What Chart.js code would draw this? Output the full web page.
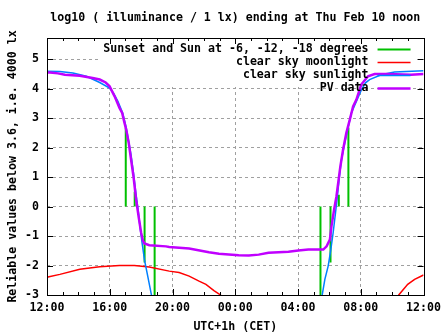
<!DOCTYPE html>
<html>
<head>
<meta charset="utf-8">
<script src="https://cdn.jsdelivr.net/npm/chart.js@4"></script>
<style>
  html, body { margin: 0; padding: 0; background: #fff; }
  canvas { display: block; }
</style>
</head>
<body>
<canvas id="chart" width="447" height="335"></canvas>
<script>
// x values are hours after 12:00 on Wed Feb 9 (CET)
const xTickHours = [0, 4, 8, 12, 16, 20, 24];
const xTickLabels = ["12:00", "16:00", "20:00", "00:00", "04:00", "08:00", "12:00"];
const yTickValues = [-3, -2, -1, 0, 1, 2, 3, 4, 5];

// sunset, sun at -6, -12, -18 degrees, then the same in the morning
const twilightHours = [5.02, 5.59, 6.22, 6.86, 17.43, 18.07, 18.60, 19.21];
const twilightLevels = [2.68, 0.5, -1.9, -3.3, -3.3, -1.9, 0.4, 2.68];

const moonHours = [0, 0.13, 0.82, 2.09, 3.36, 4.62, 5.57, 6.52, 7.79, 8.42, 9.06, 9.69, 10.13, 10.64, 11.06, 11.3,
  16.0,
  22.2, 22.42, 22.99, 23.43, 24.0];
const moonLog = [-2.40, -2.38, -2.30, -2.13, -2.04, -2.00, -2.00, -2.05, -2.19, -2.24, -2.36, -2.53, -2.64, -2.85, -3.0, -3.3,
  null,
  -3.3, -3.0, -2.64, -2.47, -2.32];

const sunHours = [0, 0.82, 1.65, 2.51, 3.36, 3.99, 4.24, 4.52, 4.83, 5.05, 5.21, 5.36, 5.51, 5.68, 5.83, 5.93, 6.06, 6.21, 6.42, 6.63, 6.74,
  12.0,
  17.45, 17.54, 17.71, 17.92, 18.09, 18.24, 18.39, 18.51, 18.64, 18.77, 18.98, 19.19, 19.40, 19.72, 20.03, 20.30, 20.56, 21.30, 22.15, 24.0];
const sunLog = [4.59, 4.58, 4.53, 4.42, 4.21, 4.02, 3.85, 3.57, 3.17, 2.68, 2.2, 1.75, 1.15, 0.4, -0.2, -0.7, -1.23, -1.8, -2.36, -2.93, -3.2,
  null,
  -3.2, -3.0, -2.47, -2.02, -1.46, -0.88, -0.21, 0.35, 1.03, 1.59, 2.16, 2.67, 3.18, 3.57, 3.95, 4.2, 4.31, 4.47, 4.57, 4.61];

const pvHours = [0, 0.19, 0.70, 1.14, 2.09, 2.91, 3.36, 3.74, 3.99, 4.31, 4.62, 4.79, 4.94, 5.05, 5.21, 5.36, 5.51, 5.68, 5.85, 6.00, 6.11, 6.21, 6.52,
  7.58, 7.79, 9.06, 10.32, 10.96, 12.22, 12.86, 13.49, 14.12, 14.76, 15.39, 16.02, 16.66, 17.61,
  17.82, 18.03, 18.13, 18.30, 18.45, 18.56, 18.70, 18.87, 19.08, 19.30, 19.51, 19.72, 20.03, 20.46, 20.88, 21.72, 23.2, 24.0];
const pvLog = [4.55, 4.55, 4.52, 4.47, 4.44, 4.36, 4.31, 4.21, 4.08, 3.74, 3.35, 3.18, 2.84, 2.61, 2.16, 1.59, 1.03, 0.24, -0.38, -0.89, -1.15, -1.25, -1.31,
  -1.35, -1.37, -1.42, -1.55, -1.6, -1.65, -1.66, -1.63, -1.57, -1.55, -1.53, -1.49, -1.46, -1.46,
  -1.35, -1.12, -0.67, -0.1, 0.35, 0.8, 1.37, 1.93, 2.5, 2.95, 3.4, 3.63, 4.14, 4.42, 4.5, 4.5, 4.47, 4.5];

const FONT = { family: "'DejaVu Sans Mono', monospace", size: 11.6, weight: "bold" };

// vertical bars from 0 to the level, broken by nulls
const twilightPoints = [];
twilightHours.forEach((h, i) => {
    twilightPoints.push({ x: h, y: 0 }, { x: h, y: twilightLevels[i] }, { x: h, y: null });
});

const toPoints = (xs, ys) => xs.map((x, i) => ({ x: x, y: ys[i] }));

// key box, gnuplot style: text right aligned, sample on the right
const gnuplotFrame = {
    id: "gnuplotFrame",
    beforeDatasetsDraw(chart) {
        const { ctx, chartArea: a } = chart;
        ctx.save();
        ctx.fillStyle = "#fff";
        ctx.fillRect(a.left + 51, a.top + 1, a.right - a.left - 57, 48);
        ctx.restore();
    },
    afterDatasetsDraw(chart) {
        const { ctx, chartArea: a, scales } = chart;
        const x = scales.x, y = scales.y;
        ctx.save();
        ctx.strokeStyle = "#000";
        ctx.lineWidth = 1;
        ctx.beginPath();
        for (let h = 0; h <= 24; h++) {
            const px = Math.round(x.getPixelForValue(h)) + 0.5;
            const len = h % 4 === 0 ? 6 : 3;
            ctx.moveTo(px, a.bottom); ctx.lineTo(px, a.bottom - len);
            ctx.moveTo(px, a.top); ctx.lineTo(px, a.top + len);
        }
        yTickValues.forEach((v) => {
            const py = Math.round(y.getPixelForValue(v)) + 0.5;
            ctx.moveTo(a.left, py); ctx.lineTo(a.left + 6, py);
            ctx.moveTo(a.right, py); ctx.lineTo(a.right - 6, py);
        });
        ctx.stroke();
        ctx.strokeRect(Math.round(a.left) + 0.5, Math.round(a.top) + 0.5,
            Math.round(a.right - a.left), Math.round(a.bottom - a.top));

        ctx.font = FONT.weight + " " + FONT.size + "px " + FONT.family;
        ctx.textAlign = "right";
        ctx.textBaseline = "middle";
        chart.data.datasets.forEach((ds, i) => {
            const ty = a.top + 10.5 + i * 13.2;
            ctx.fillStyle = "#000";
            ctx.fillText(ds.label, a.right - 55, ty);
            ctx.strokeStyle = ds.borderColor;
            ctx.lineWidth = ds.borderWidth;
            ctx.beginPath();
            ctx.moveTo(a.right - 46, Math.round(ty) + 0.5);
            ctx.lineTo(a.right - 13, Math.round(ty) + 0.5);
            ctx.stroke();
        });
        ctx.restore();
    }
};

const gridColor = (edgeValues) => (c) =>
    c.tick && edgeValues.includes(c.tick.value) ? "rgba(0,0,0,0)" : "#a0a0a0";

const ctx = document.getElementById("chart").getContext("2d");
const chart = new Chart(ctx, {
    type: "line",
    data: {
        datasets: [
            {
                label: "Sunset and Sun at -6, -12, -18 degrees",
                data: twilightPoints,
                borderColor: "#00c000",
                borderWidth: 2,
                order: 3,
            },
            {
                label: "clear sky moonlight",
                data: toPoints(moonHours, moonLog),
                borderColor: "#ff0000",
                borderWidth: 1.5,
                order: 2,
            },
            {
                label: "clear sky sunlight",
                data: toPoints(sunHours, sunLog),
                borderColor: "#0080ff",
                borderWidth: 1.5,
                order: 1,
            },
            {
                label: "PV data",
                data: toPoints(pvHours, pvLog),
                borderColor: "#c000ff",
                borderWidth: 2.5,
                order: 0,
            },
        ],
    },
    options: {
        responsive: false,
        animation: false,
        spanGaps: false,
        elements: {
            point: { radius: 0 },
            line: { tension: 0, fill: false },
        },
        layout: { padding: { left: 0, right: 21, top: 0, bottom: 0 } },
        plugins: {
            legend: { display: false },
            tooltip: { enabled: false },
            title: {
                display: true,
                text: "log10 ( illuminance / 1 lx) ending at Thu Feb 10 noon",
                font: FONT,
                color: "#000",
                fullSize: false,
                padding: { top: 11, bottom: 13.08 },
            },
        },
        scales: {
            x: {
                type: "linear",
                min: 0,
                max: 24,
                afterBuildTicks: (scale) => {
                    scale.ticks = xTickHours.map((v) => ({ value: v }));
                },
                afterFit: (scale) => { scale.height = 40; },
                ticks: {
                    autoSkip: false,
                    maxRotation: 0,
                    padding: 6,
                    color: "#000",
                    font: FONT,
                    callback: (v) => xTickLabels[xTickHours.indexOf(v)],
                },
                grid: { drawTicks: false, color: gridColor([0, 24]), lineWidth: 1 },
                border: { display: false, dash: [3, 3] },
                title: {
                    display: true,
                    text: "UTC+1h (CET)",
                    font: FONT,
                    color: "#000",
                    padding: { top: 0, bottom: 1 },
                },
            },
            y: {
                type: "linear",
                min: -3,
                max: 5.72,
                afterBuildTicks: (scale) => {
                    scale.ticks = yTickValues.map((v) => ({ value: v }));
                },
                afterFit: (scale) => { scale.width = 47; },
                ticks: {
                    padding: 8,
                    color: "#000",
                    font: FONT,
                    callback: (v) => String(v),
                },
                grid: { drawTicks: false, color: gridColor([-3]), lineWidth: 1 },
                border: { display: false, dash: [3, 3] },
                title: {
                    display: true,
                    text: "Reliable values below 3.6, i.e. 4000 lx",
                    font: FONT,
                    color: "#000",
                    padding: { top: 6.5, bottom: 0 },
                },
            },
        },
    },
    plugins: [gnuplotFrame],
});
</script>
</body>
</html>
